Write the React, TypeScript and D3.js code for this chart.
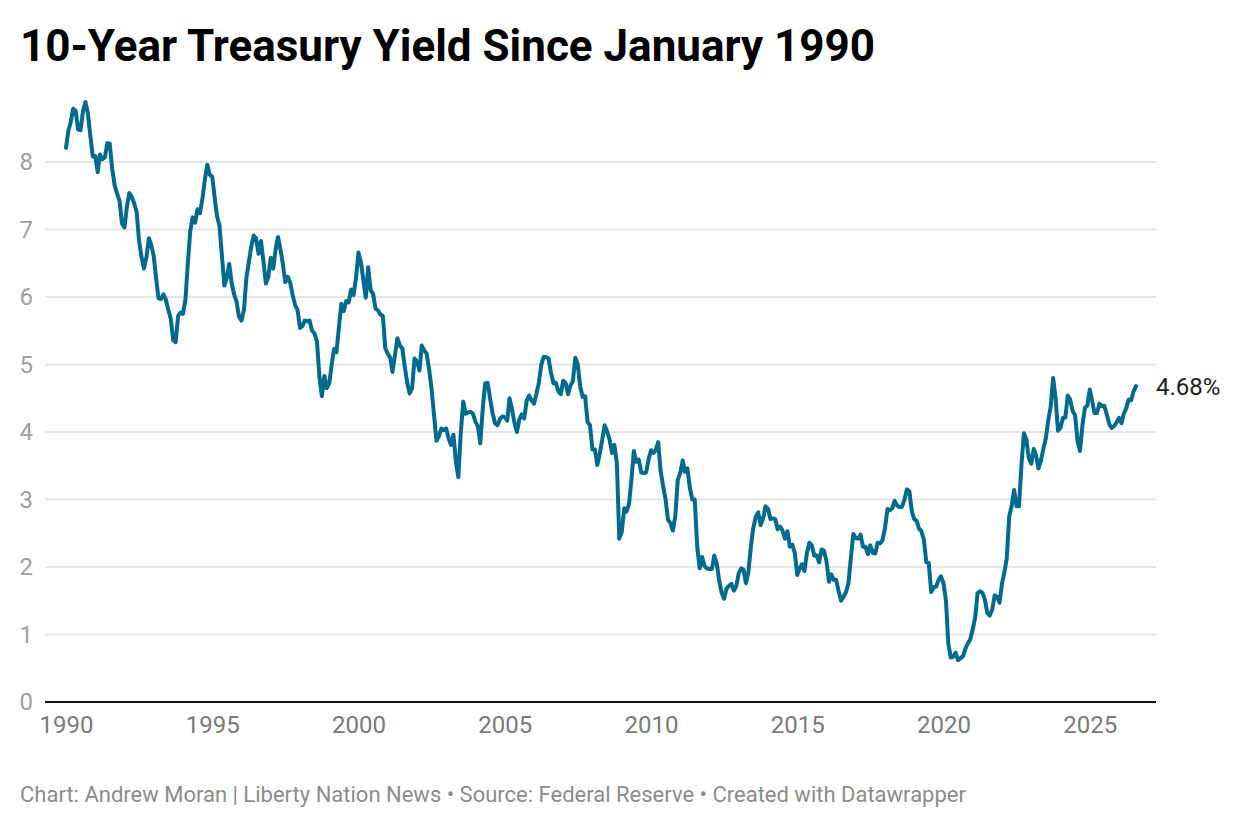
import React, { useEffect, useRef } from 'react';
import * as d3 from 'd3';

const startYear = 1990;
const yieldTicks = [0, 1, 2, 3, 4, 5, 6, 7, 8];
const yearTicks = [1990, 1995, 2000, 2005, 2010, 2015, 2020, 2025];
const lastLabel = '4.68%';
const title = '10-Year Treasury Yield Since January 1990';
const footer = 'Chart: Andrew Moran | Liberty Nation News • Source: Federal Reserve • Created with Datawrapper';

// monthly values, one row per year
const yields = [
  8.21, 8.47, 8.59, 8.79, 8.76, 8.48, 8.47, 8.75, 8.89, 8.72, 8.39, 8.08,
  8.09, 7.85, 8.11, 8.04, 8.07, 8.28, 8.27, 7.9, 7.65, 7.53, 7.42, 7.09,
  7.03, 7.34, 7.54, 7.48, 7.39, 7.26, 6.84, 6.59, 6.42, 6.59, 6.87, 6.77,
  6.6, 6.26, 5.98, 5.97, 6.04, 5.96, 5.81, 5.68, 5.36, 5.33, 5.72, 5.77,
  5.75, 5.97, 6.48, 6.97, 7.18, 7.1, 7.3, 7.24, 7.46, 7.74, 7.96, 7.81,
  7.78, 7.47, 7.2, 7.06, 6.63, 6.17, 6.28, 6.49, 6.2, 6.04, 5.93, 5.71,
  5.65, 5.81, 6.27, 6.51, 6.74, 6.91, 6.87, 6.64, 6.83, 6.53, 6.2, 6.3,
  6.58, 6.42, 6.69, 6.89, 6.71, 6.49, 6.22, 6.3, 6.21, 6.03, 5.88, 5.81,
  5.54, 5.57, 5.65, 5.64, 5.65, 5.5, 5.46, 5.34, 4.81, 4.53, 4.83, 4.65,
  4.72, 5.0, 5.23, 5.18, 5.54, 5.9, 5.79, 5.94, 5.92, 6.11, 6.03, 6.28,
  6.66, 6.52, 6.26, 5.99, 6.44, 6.1, 6.05, 5.83, 5.8, 5.74, 5.72, 5.24,
  5.16, 5.1, 4.89, 5.14, 5.39, 5.28, 5.24, 4.97, 4.73, 4.57, 4.65, 5.09,
  5.04, 4.91, 5.28, 5.21, 5.16, 4.93, 4.65, 4.26, 3.87, 3.94, 4.05, 4.03,
  4.05, 3.9, 3.81, 3.96, 3.57, 3.33, 3.98, 4.45, 4.27, 4.29, 4.3, 4.27,
  4.15, 4.08, 3.83, 4.35, 4.72, 4.73, 4.5, 4.28, 4.13, 4.1, 4.19, 4.23,
  4.22, 4.17, 4.5, 4.34, 4.14, 4.0, 4.18, 4.26, 4.2, 4.46, 4.54, 4.47,
  4.42, 4.57, 4.72, 4.99, 5.11, 5.11, 5.09, 4.88, 4.72, 4.73, 4.6, 4.56,
  4.76, 4.72, 4.56, 4.69, 4.75, 5.1, 5.0, 4.67, 4.52, 4.53, 4.15, 4.1,
  3.74, 3.74, 3.51, 3.68, 3.88, 4.1, 4.01, 3.89, 3.69, 3.81, 3.53, 2.42,
  2.52, 2.87, 2.82, 2.93, 3.29, 3.72, 3.56, 3.59, 3.4, 3.39, 3.4, 3.59,
  3.73, 3.69, 3.73, 3.85, 3.42, 3.2, 3.01, 2.7, 2.65, 2.54, 2.76, 3.29,
  3.39, 3.58, 3.41, 3.46, 3.17, 3.0, 3.0, 2.3, 1.98, 2.15, 2.01, 1.98,
  1.97, 1.97, 2.17, 2.05, 1.8, 1.62, 1.53, 1.68, 1.72, 1.75, 1.65, 1.72,
  1.91, 1.98, 1.96, 1.76, 1.93, 2.3, 2.58, 2.74, 2.81, 2.62, 2.72, 2.9,
  2.86, 2.71, 2.72, 2.71, 2.56, 2.6, 2.54, 2.42, 2.53, 2.3, 2.33, 2.21,
  1.88, 1.98, 2.04, 1.94, 2.2, 2.36, 2.32, 2.17, 2.17, 2.07, 2.26, 2.24,
  2.09, 1.78, 1.89, 1.81, 1.81, 1.64, 1.5, 1.56, 1.63, 1.76, 2.14, 2.49,
  2.43, 2.42, 2.48, 2.3, 2.3, 2.19, 2.32, 2.21, 2.2, 2.36, 2.35, 2.4,
  2.58, 2.86, 2.84, 2.87, 2.98, 2.91, 2.89, 2.89, 3.0, 3.15, 3.12, 2.83,
  2.71, 2.68, 2.57, 2.53, 2.4, 2.07, 2.06, 1.63, 1.7, 1.71, 1.81, 1.86,
  1.76, 1.5, 0.87, 0.66, 0.67, 0.73, 0.62, 0.65, 0.68, 0.79, 0.87, 0.93,
  1.08, 1.26, 1.61, 1.64, 1.62, 1.52, 1.32, 1.28, 1.37, 1.58, 1.56, 1.47,
  1.76, 1.93, 2.13, 2.75, 2.9, 3.14, 2.9, 2.9, 3.52, 3.98, 3.89, 3.62,
  3.53, 3.75, 3.66, 3.46, 3.57, 3.75, 3.9, 4.17, 4.38, 4.8, 4.5, 4.02,
  4.06, 4.21, 4.21, 4.54, 4.48, 4.31, 4.25, 3.87, 3.72, 4.1, 4.36, 4.39,
  4.63, 4.45, 4.28, 4.28, 4.42, 4.38, 4.39, 4.26, 4.12, 4.06, 4.09, 4.14,
  4.21, 4.13, 4.27, 4.35, 4.48, 4.47, 4.6, 4.68
];

const width = 1240;
const height = 828;
const plot = { left: 45, right: 1156, top: 162, bottom: 702, lineStart: 66, lineEnd: 1136 };
const font = 'Roboto, sans-serif';

export default function App() {
  const axesRef = useRef<SVGGElement>(null);

  const dates = yields.map((_, i) => new Date(startYear, i, 1));
  const x = d3.scaleTime()
    .domain([dates[0], dates[dates.length - 1]])
    .range([plot.lineStart, plot.lineEnd]);
  const y = d3.scaleLinear().domain([0, 8]).range([plot.bottom, plot.top]);

  const linePath = d3.line<number>()
    .x((_, i) => x(dates[i]))
    .y((d) => y(d))(yields);

  useEffect(() => {
    if (!axesRef.current) return;
    const g = d3.select(axesRef.current);
    g.selectAll('*').remove();

    const yAxis = g.append('g')
      .attr('transform', `translate(${plot.left},0)`)
      .call(d3.axisLeft(y).tickValues(yieldTicks).tickSize(0).tickPadding(12).tickFormat(d3.format('d')));
    yAxis.select('.domain').remove();
    yAxis.selectAll('text')
      .attr('font-family', font)
      .attr('font-size', 24)
      .attr('fill', '#a0a0a0');

    const xAxis = g.append('g')
      .attr('transform', `translate(0,${plot.bottom})`)
      .call(
        d3.axisBottom(x)
          .tickValues(yearTicks.map((yr) => new Date(yr, 0, 1)))
          .tickSize(0)
          .tickPadding(14)
          .tickFormat((d) => String((d as Date).getFullYear()))
      );
    xAxis.select('.domain').remove();
    xAxis.selectAll('text')
      .attr('font-family', font)
      .attr('font-size', 24)
      .attr('fill', '#7a7a7a');
  }, []);

  return (
    <svg
      width={width}
      height={height}
      style={{ position: 'absolute', top: 0, left: 0, background: '#fff' }}
    >
      <text x={20} y={61} fontFamily={font} fontSize={44} fontWeight={700} fill="#000">
        {title}
      </text>

      {yieldTicks.filter((t) => t > 0).map((t) => (
        <line key={t} x1={plot.left} x2={plot.right} y1={y(t)} y2={y(t)} stroke="#e5e5e5" strokeWidth={1.8} />
      ))}
      <g ref={axesRef} />
      <line x1={plot.left} x2={plot.right} y1={y(0)} y2={y(0)} stroke="#111" strokeWidth={2} />

      <path d={linePath ?? ''} fill="none" stroke="#006a8f" strokeWidth={4} strokeLinejoin="round" strokeLinecap="round" />

      <text x={plot.right} y={y(yields[yields.length - 1]) + 9} fontFamily={font} fontSize={24} fill="#222">
        {lastLabel}
      </text>

      <text x={20} y={802} fontFamily={font} fontSize={22} fill="#8c8c8c">
        {footer}
      </text>
    </svg>
  );
}
